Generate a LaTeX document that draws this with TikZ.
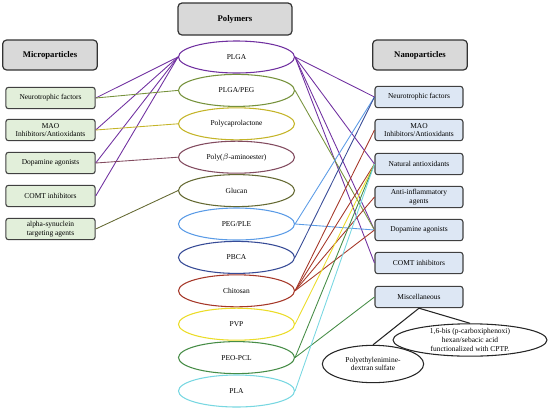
\documentclass[tikz,border=0pt]{standalone}
\usepackage{fontspec}
\setmainfont{Liberation Serif}
\usepackage{tikz}
\usetikzlibrary{
  shapes.geometric   % ellipse nodes for the polymers
}
% polymer colours
\definecolor{cPLGA}{RGB}{112,48,160}
\definecolor{cPLGAPEG}{RGB}{118,146,60}
\definecolor{cPCL}{RGB}{196,180,40}
\definecolor{cPBAE}{RGB}{130,75,95}
\definecolor{cGlucan}{RGB}{100,105,50}
\definecolor{cPEGPLE}{RGB}{90,155,230}
\definecolor{cPBCA}{RGB}{55,75,150}
\definecolor{cChit}{RGB}{165,55,40}
\definecolor{cPVP}{RGB}{235,220,40}
\definecolor{cPEOPCL}{RGB}{70,140,70}
\definecolor{cPLA}{RGB}{120,215,225}
\definecolor{microfill}{RGB}{226,239,218}
\definecolor{nanofill}{RGB}{221,231,244}
\tikzset{
  head box/.style={
    draw=black!80,
    fill=black!15,
    rounded corners=3pt,
    line width=0.9pt,
    font=\fontsize{6.5}{7.5}\selectfont\bfseries
  },
  micro box/.style={
    draw=black!75,
    fill=microfill,
    rounded corners=2pt,
    line width=0.8pt,
    minimum width=67pt,
    minimum height=16pt,
    inner sep=1pt,
    align=center,
    font=\fontsize{5.6}{6.6}\selectfont
  },
  nano box/.style={
    micro box,
    fill=nanofill,
    minimum width=66pt
  },
  polymer/.style={
    ellipse,
    draw=#1,
    line width=0.8pt,
    minimum width=87pt,
    minimum height=24pt,
    inner sep=0pt,
    font=\fontsize{5.6}{6.6}\selectfont
  },
  misc oval/.style={
    ellipse,
    draw=black!85,
    line width=0.8pt,
    inner sep=0pt,
    align=center,
    font=\fontsize{5.6}{6.6}\selectfont
  },
  link/.style={
    line width=0.65pt
  }
}

\begin{document}
\begin{tikzpicture}[x=0.75pt, y=-0.75pt]
  \useasboundingbox (0,0) rectangle (550,412);

  % headers
  \node[head box, minimum width=85.5pt, minimum height=24pt] (hPoly) at (235,19) {Polymers};
  \node[head box, minimum width=71pt, minimum height=22.5pt] (hMicro) at (50,55) {Microparticles};
  \node[head box, minimum width=71pt, minimum height=22.5pt] (hNano) at (420,55) {Nanoparticles};

  % microparticles (left column)
  \node[micro box] (mNeuro) at (50.5,98)  {Neurotrophic factors};
  \node[micro box] (mMAO)   at (50.5,130) {MAO\\Inhibitors/Antioxidants};
  \node[micro box] (mDopa)  at (50.5,163) {Dopamine agonists};
  \node[micro box] (mCOMT)  at (50.5,196) {COMT inhibitors};
  \node[micro box] (mSyn)   at (50.5,229) {alpha-synuclein\\targeting agents};

  % nanoparticles (right column)
  \node[nano box] (nNeuro) at (419,97)  {Neurotrophic factors};
  \node[nano box] (nMAO)   at (419,130) {MAO\\Inhibitors/Antioxidants};
  \node[nano box] (nNat)   at (419,164) {Natural antioxidants};
  \node[nano box] (nInfl)  at (419,197) {Anti-inflammatory\\agents};
  \node[nano box] (nDopa)  at (419,230) {Dopamine agonists};
  \node[nano box] (nCOMT)  at (419,263) {COMT inhibitors};
  \node[nano box] (nMisc)  at (419,297) {Miscellaneous};

  % polymers (middle column)
  \foreach \nm/\txt/\col [count=\i from 0] in {
      pPLGA/PLGA/cPLGA,
      pPEG/{PLGA/PEG}/cPLGAPEG,
      pPCL/Polycaprolactone/cPCL,
      pPBAE/{Poly($\beta$-aminoester)}/cPBAE,
      pGlucan/Glucan/cGlucan,
      pPLE/{PEG/PLE}/cPEGPLE,
      pPBCA/PBCA/cPBCA,
      pChit/Chitosan/cChit,
      pPVP/PVP/cPVP,
      pPEO/PEO-PCL/cPEOPCL,
      pPLA/PLA/cPLA}
    \node[polymer=\col] (\nm) at (236.5,{57+33.4*\i}) {\txt};

  % miscellaneous examples
  \node[misc oval, minimum width=115.5pt, minimum height=24pt] (oBis) at (470,340)
    {1,6-bis (p-carboxiphenoxi)\\hexan/sebacic acid\\functionalized with CPTP.};
  \node[misc oval, minimum width=76pt, minimum height=28pt] (oPEI) at (373,364)
    {Polyethylenimine-\\dextran sulfate};

  % links to microparticles
  \foreach \t in {mNeuro,mMAO,mDopa,mCOMT}
    \draw[link, cPLGA] (pPLGA.west) -- (\t.east);
  \draw[link, cPLGAPEG] (pPEG.west) -- (mNeuro.east);
  \draw[link, cPCL] (pPCL.west) -- (mMAO.east);
  \draw[link, cPBAE] (pPBAE.west) -- (mDopa.east);
  \draw[link, cGlucan] (pGlucan.west) -- (mSyn.east);

  % links to nanoparticles
  \foreach \t in {nNeuro,nNat,nDopa,nCOMT}
    \draw[link, cPLGA] (pPLGA.east) -- (\t.west);
  \draw[link, cPLGAPEG] (pPEG.east) -- (nDopa.west);
  \draw[link, cPEGPLE] (pPLE.east) -- (nNeuro.west);
  \draw[link, cPEGPLE] (pPLE.east) -- (nDopa.west);
  \draw[link, cPBCA] (pPBCA.east) -- (nNeuro.west);
  \foreach \t in {nMAO,nNat,nInfl,nDopa}
    \draw[link, cChit] (pChit.east) -- (\t.west);
  \draw[link, cPVP] (pPVP.east) -- (nNat.west);
  \draw[link, cPEOPCL] (pPEO.east) -- (nNat.west);
  \draw[link, cPEOPCL] (pPEO.east) -- (nMisc.west);
  \draw[link, cPLA] (pPLA.east) -- (nNat.west);

  % miscellaneous branches
  \draw[line width=0.8pt, black!85] (nMisc.south) -- (oPEI.north);
  \draw[line width=0.8pt, black!85] (nMisc.south) -- (oBis.north);
\end{tikzpicture}
\end{document}
